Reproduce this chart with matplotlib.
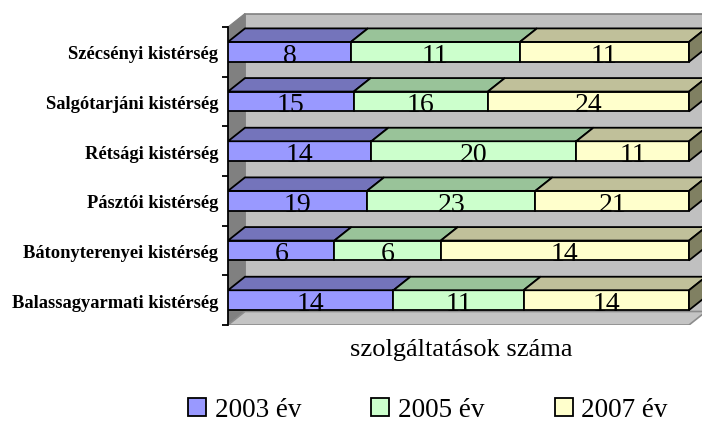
import numpy as np
import matplotlib
matplotlib.use("Agg")
import matplotlib.pyplot as plt
from matplotlib.patches import Polygon, Rectangle

plt.rcParams['font.family'] = ['Liberation Serif', 'DejaVu Serif']

# adatok (alulról felfelé)
categories = ["Balassagyarmati kistérség", "Bátonyterenyei kistérség", "Pásztói kistérség",
              "Rétsági kistérség", "Salgótarjáni kistérség", "Szécsényi kistérség"]
series_names = ["2003 év", "2005 év", "2007 év"]
v2003 = [14, 6, 19, 14, 15, 8]
v2005 = [11, 6, 23, 20, 16, 11]
v2007 = [14, 14, 21, 11, 24, 11]

front_colors = ["#9999FF", "#CCFFCC", "#FFFFCC"]
top_colors = ["#7474BB", "#99C399", "#C0C09A"]
side_color = "#808062"

W, H = 702, 427
fig = plt.figure(figsize=(W / 100, H / 100), dpi=100)

# plot terület pixelben
x0_px, x1_px, xr_px = 228, 689, 702
yb_px, yt_px, ywall_px = 326, 28, 14
row_px = (yb_px - yt_px) / len(categories)
ax = fig.add_axes([x0_px / W, 1 - yb_px / H, (xr_px - x0_px) / W, (yb_px - ywall_px) / H])
ax.set_xlim(0, (xr_px - x0_px) / (x1_px - x0_px))
ax.set_ylim(0, (yb_px - ywall_px) / row_px)

# 3D eltolás adategységben
dx = 17 / (x1_px - x0_px)
dy = 13.5 / row_px
n = len(categories)
bh = 0.4

# falak, padló
ax.add_patch(Rectangle((dx, dy), 2, n, facecolor="#C0C0C0", edgecolor="#808080", lw=1.2, zorder=0))
ax.add_patch(Polygon([(0, 0), (dx, dy), (dx, n + dy), (0, n)], closed=True,
                     facecolor="#808080", edgecolor="#808080", lw=0.8, zorder=1))
ax.add_patch(Polygon([(0, 0), (1, 0), (1 + dx, dy), (dx, dy)], closed=True,
                     facecolor="#C4C4C4", edgecolor="#8C8C8C", lw=1.2, zorder=1))

data = np.array([v2003, v2005, v2007], dtype=float)
share = data / data.sum(axis=0)
y = np.arange(n) + 0.5

left = np.zeros(n)
for k in range(3):
    ax.barh(y, share[k], left=left, height=bh, color=front_colors[k],
            edgecolor="black", lw=1.3, zorder=3, label=series_names[k])
    for i in range(n):
        a, b = left[i], left[i] + share[k][i]
        top = y[i] + bh / 2
        ax.add_patch(Polygon([(a, top), (a + dx, top + dy), (b + dx, top + dy), (b, top)],
                             closed=True, facecolor=top_colors[k], edgecolor="black",
                             lw=1.3, zorder=3))
        ax.text((a + b) / 2, y[i] - bh / 2 + 0.005, "%d" % data[k][i], ha="center",
                va="baseline", fontsize=20, zorder=5)
    left = left + share[k]

# jobb oldali lap
for i in range(n):
    bot, top = y[i] - bh / 2, y[i] + bh / 2
    ax.add_patch(Polygon([(1, bot), (1 + dx, bot + dy), (1 + dx, top + dy), (1, top)],
                         closed=True, facecolor=side_color, edgecolor="black", lw=1.3, zorder=3))

# tengelyek
for s in ["top", "right", "bottom"]:
    ax.spines[s].set_visible(False)
ax.spines["left"].set_bounds(0, n)
ax.spines["left"].set_linewidth(1.3)
ax.set_xticks([])
ax.set_yticks(y)
ax.set_yticklabels(categories, fontsize=13.3, fontweight="bold")
ax.tick_params(axis="y", which="major", length=0, pad=7)
ax.set_yticks(np.arange(n + 1), minor=True)
ax.tick_params(axis="y", which="minor", length=4.5, width=1.3, direction="out")

fig.text(461 / W, 1 - 350 / H, "szolgáltatások száma", ha="center", va="center", fontsize=19)

handles = [Rectangle((0, 0), 1, 1, facecolor=c, edgecolor="black", lw=1.3) for c in front_colors]
fig.legend(handles, series_names, loc="center", bbox_to_anchor=(428 / W, 1 - 411 / H),
           ncol=3, frameon=False, fontsize=19.5, handlelength=0.65, handleheight=0.65,
           handletextpad=0.33, columnspacing=2.6)

fig.savefig("out.png", dpi=100)
